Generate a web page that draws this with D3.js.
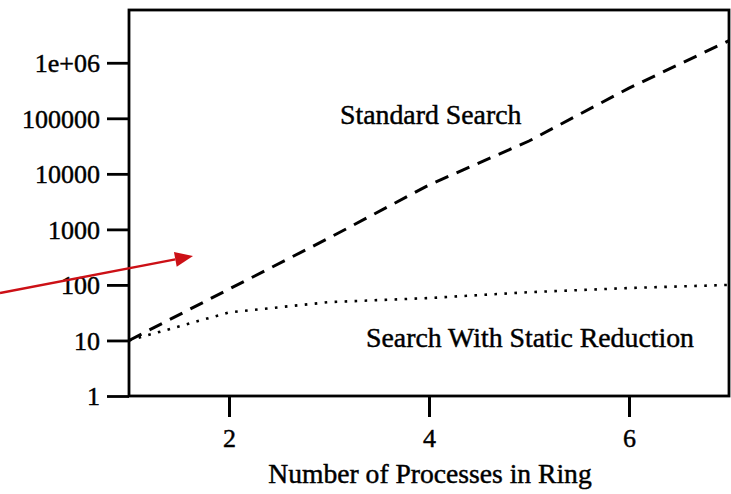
<!DOCTYPE html>
<html>
<head>
<meta charset="utf-8">
<script src="https://cdn.jsdelivr.net/npm/d3@7"></script>
<style>
  html, body { margin: 0; padding: 0; background: #fff; }
  svg { display: block; font-family: "Liberation Serif", "Times New Roman", serif; }
  svg text { stroke: #000; stroke-width: 0.45px; fill: #000; }
</style>
</head>
<body>
<svg id="chart" width="731" height="494"></svg>
<script>
// Ring size (number of processes)
const processes = [1, 2, 3, 4, 5, 6, 7];
// States explored by the standard search
const standardSearch = [10, 84, 700, 6300, 39000, 350000, 2500000];
// States explored with static reduction
const staticReduction = [10, 32, 49, 58, 74, 88, 100];

const xTicks = [2, 4, 6];
const yTicks = [1, 10, 100, 1000, 10000, 100000, 1000000];
const yTickLabels = ["1", "10", "100", "1000", "10000", "100000", "1e+06"];

const svg = d3.select("#chart");
const m = { left: 129, top: 10, right: 2, bottom: 98 };
const W = 731, H = 494;

const x = d3.scaleLinear().domain([1, 7]).range([m.left, W - m.right]);
const y = d3.scaleLog().domain([1, Math.pow(10, 6.95)]).range([H - m.bottom, m.top]);

// Frame
svg.append("rect")
  .attr("x", m.left).attr("y", m.top)
  .attr("width", W - m.right - m.left).attr("height", H - m.bottom - m.top)
  .attr("fill", "none").attr("stroke", "#000").attr("stroke-width", 2.8);

// Y axis
const yAxis = svg.append("g")
  .attr("transform", `translate(${m.left},0)`)
  .call(d3.axisLeft(y).tickValues(yTicks)
    .tickFormat((d, i) => yTickLabels[i]).tickSize(22).tickPadding(7));
yAxis.select(".domain").remove();
yAxis.selectAll(".tick line").attr("stroke-width", 2.8);
yAxis.selectAll(".tick text")
  .attr("font-size", 26)
  .attr("font-family", "Liberation Serif, Times New Roman, serif")
  .attr("dy", "0.34em");

// X axis
const xAxis = svg.append("g")
  .attr("transform", `translate(0,${H - m.bottom})`)
  .call(d3.axisBottom(x).tickValues(xTicks).tickFormat(d3.format("d")).tickSize(21).tickPadding(12));
xAxis.select(".domain").remove();
xAxis.selectAll(".tick line").attr("stroke-width", 3);
xAxis.selectAll(".tick text")
  .attr("font-size", 26)
  .attr("font-family", "Liberation Serif, Times New Roman, serif");

// X axis title
svg.append("text")
  .attr("x", 430).attr("y", 483)
  .attr("text-anchor", "middle")
  .attr("font-size", 27.6)
  .text("Number of Processes in Ring");

const line = d3.line().x((d, i) => x(processes[i])).y(d => y(d));

// Standard search (dashed)
svg.append("path")
  .datum(standardSearch)
  .attr("d", line)
  .attr("fill", "none").attr("stroke", "#000")
  .attr("stroke-width", 3)
  .attr("stroke-dasharray", "14 9");

// Search with static reduction (dotted)
svg.append("path")
  .datum(staticReduction)
  .attr("d", line)
  .attr("fill", "none").attr("stroke", "#000")
  .attr("stroke-width", 2.6)
  .attr("stroke-dasharray", "2.6 7.4");

// Series labels
svg.append("text").attr("x", 340).attr("y", 124).attr("font-size", 27.8).text("Standard Search");
svg.append("text").attr("x", 366).attr("y", 347).attr("font-size", 27.8).text("Search With Static Reduction");

// Red pointer arrow
const tip = [193, 256], tail = [0, 293];
const ang = Math.atan2(tip[1] - tail[1], tip[0] - tail[0]);
const headLen = 18, headHalf = 7.5;
const base = [tip[0] - headLen * Math.cos(ang), tip[1] - headLen * Math.sin(ang)];
svg.append("line")
  .attr("x1", tail[0]).attr("y1", tail[1])
  .attr("x2", base[0]).attr("y2", base[1])
  .attr("stroke", "#cc1016").attr("stroke-width", 2.5);
svg.append("path")
  .attr("d", d3.line()([
    tip,
    [base[0] + headHalf * Math.sin(ang), base[1] - headHalf * Math.cos(ang)],
    [base[0] - headHalf * Math.sin(ang), base[1] + headHalf * Math.cos(ang)]
  ]) + "Z")
  .attr("fill", "#cc1016");
</script>
</body>
</html>
